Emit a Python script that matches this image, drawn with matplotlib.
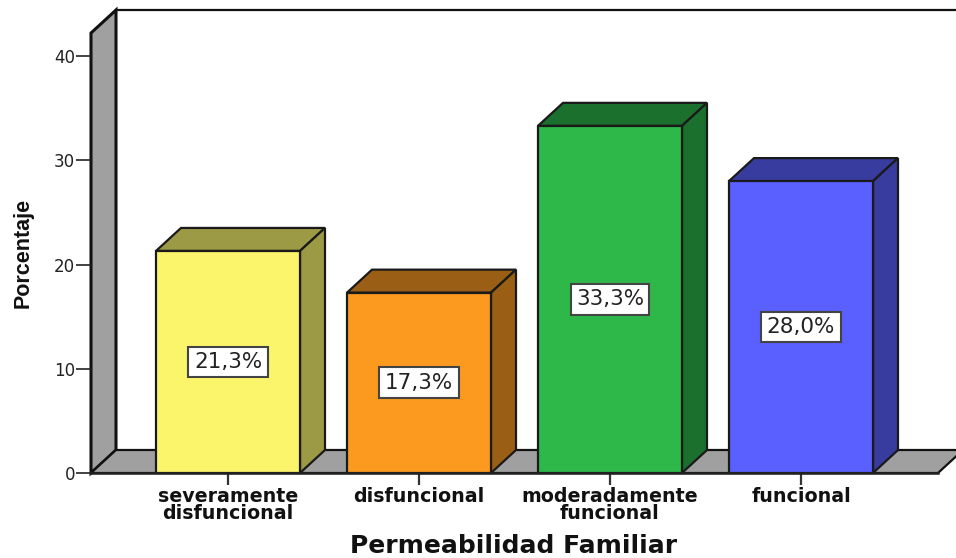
import matplotlib
matplotlib.use('Agg')
import matplotlib.pyplot as plt
from matplotlib.patches import Polygon

categorias = ['severamente\ndisfuncional', 'disfuncional', 'moderadamente\nfuncional', 'funcional']
porcentajes = [21.3, 17.3, 33.3, 28.0]
color_frente = ['#fbf56c', '#fb9a1f', '#2fb84a', '#5a60ff']
color_lado = ['#9c9a45', '#9a5f14', '#1c702d', '#383c9e']
yticks = [0, 10, 20, 30, 40]

W, H = 956, 558
fig = plt.figure(figsize=(W / 100, H / 100), dpi=100)
ax = fig.add_axes([91 / W, (H - 473) / H, 847 / W, 417 / H])
ax.set_xlim(-137 / 191, 710 / 191)
ax.set_ylim(0, 40)

# profundidad del efecto 3D, en unidades de datos
dx = 25 / 191
dy = 23 / 10.425
ancho = 144 / 191
gris = '#a0a0a0'
x0, x1 = ax.get_xlim()
techo = 40 + (56 - 33) / 10.425

# pared izquierda y suelo
ax.add_patch(Polygon([(x0, 0), (x0 + dx, dy), (x0 + dx, techo + dy), (x0, techo)],
                     fc=gris, ec='#111111', lw=2.2, clip_on=False, zorder=1))
ax.add_patch(Polygon([(x0, 0), (x0 + dx, dy), (x1 + dx, dy), (x1, 0)],
                     fc=gris, ec='#111111', lw=1.6, clip_on=False, zorder=1))
ax.plot([x0 + dx, x1 + dx], [techo + dy, techo + dy], color='#111111', lw=1.6,
        clip_on=False, zorder=1)

for i, v in enumerate(porcentajes):
    izq, der = i - ancho / 2, i + ancho / 2
    ax.bar(i, v, width=ancho, color=color_frente[i], edgecolor='#1a1a1a', linewidth=1.6,
           zorder=3, clip_on=False)
    ax.add_patch(Polygon([(izq, v), (izq + dx, v + dy), (der + dx, v + dy), (der, v)],
                         fc=color_lado[i], ec='#1a1a1a', lw=1.6, clip_on=False, zorder=2))
    ax.add_patch(Polygon([(der, 0), (der + dx, dy), (der + dx, v + dy), (der, v)],
                         fc=color_lado[i], ec='#1a1a1a', lw=1.6, clip_on=False, zorder=2))
    etiqueta = f'{v:.1f}'.replace('.', ',') + '%'
    ax.text(i, v / 2, etiqueta, ha='center', va='center', fontsize=15.5, color='#222222',
            family='DejaVu Sans', zorder=5,
            bbox=dict(boxstyle='square,pad=0.25', fc='white', ec='#444444', lw=1.5))

for lado in ['top', 'right', 'left']:
    ax.spines[lado].set_visible(False)
ax.spines['bottom'].set_linewidth(1.8)
ax.spines['bottom'].set_color('#222222')
ax.spines['bottom'].set_zorder(6)
ax.patch.set_visible(False)

ax.set_yticks(yticks)
ax.tick_params(axis='y', length=10.5, width=1.2, color='#222222', labelsize=12,
               labelcolor='#222222', pad=1)
ax.set_xticks(range(len(categorias)))
ax.set_xticklabels(categorias, fontsize=13.7, fontweight='bold', linespacing=0.85, color='#111111')
ax.tick_params(axis='x', length=8.5, width=1.6, color='#333333', pad=1.5)

fig.text(23 / W, 1 - 253 / H, 'Porcentaje', rotation=90, ha='center', va='center',
         fontsize=15.5, fontweight='bold', family='Liberation Sans', color='#111111')
fig.text(514 / W, 1 - 546 / H, 'Permeabilidad Familiar', ha='center', va='center',
         fontsize=18, fontweight='bold', color='#111111')

fig.savefig('out.png', dpi=100)
